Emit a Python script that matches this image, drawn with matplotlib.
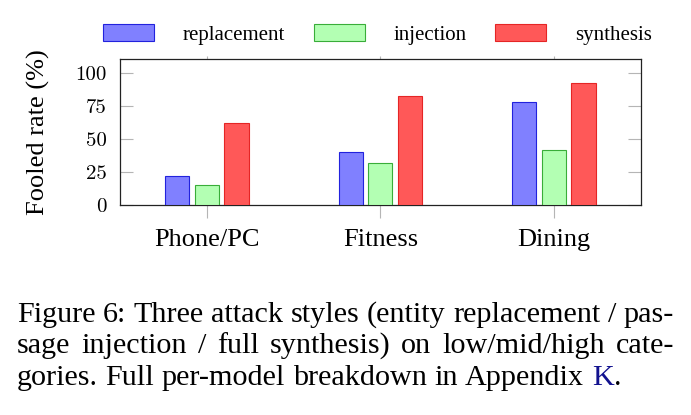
import numpy as np
import matplotlib
matplotlib.use('Agg')
import matplotlib.pyplot as plt
from matplotlib.patches import Patch

categories = ['Phone/PC', 'Fitness', 'Dining']
series_names = ['replacement', 'injection', 'synthesis']
replacement = [22, 40, 78]
injection = [15, 32, 42]
synthesis = [62, 82, 92]
yticks = [0, 25, 50, 75, 100]

caption_lines = [
    'Figure 6: Three attack styles (entity replacement / pas-',
    'sage injection / full synthesis) on low/mid/high cate-',
    'gories. Full per-model breakdown in Appendix',
]
link_text = 'K'

fills = ['#8080ff', '#b3ffb3', '#ff5858']
edges = ['#2222dd', '#39ad39', '#e52525']

W, H = 691, 415
serif = 'Liberation Serif'

fig = plt.figure(figsize=(W / 100, H / 100), dpi=100)
ax = fig.add_axes([120 / W, 1 - 205.3 / H, 520.7 / W, 146 / H])

x = np.arange(len(categories))
step = 0.171
bw = 0.14
for i, vals in enumerate([replacement, injection, synthesis]):
    ax.bar(x + (i - 1) * step, vals, width=bw, color=fills[i],
           edgecolor=edges[i], linewidth=0.8, zorder=3)

ax.set_xlim(-0.5, 2.5)
ax.set_ylim(0, 110)
ax.set_yticks(yticks)
ax.set_yticklabels([str(v) for v in yticks], fontfamily='cmr10', fontsize=15)
ax.set_xticks(x)
ax.set_xticklabels(categories, fontfamily=serif, fontsize=19)

ax.tick_params(axis='y', direction='in', length=9.4, width=0.8, color='#b5b5b5',
               left=True, right=True, pad=9.5)
ax.tick_params(axis='x', direction='out', length=9.4, width=0.8, color='#b5b5b5',
               top=False, pad=8)
for s in ax.spines.values():
    s.set_linewidth(0.9)
    s.set_color('#222222')

# little stubs above the top spine
top = ax.secondary_xaxis('top')
top.set_xticks(x)
top.set_xticklabels([])
top.tick_params(direction='out', length=2.2, width=0.8, color='#b5b5b5')
top.spines['top'].set_visible(False)

fig.text(38 / W, 1 - 132.5 / H, 'Fooled rate (%)', rotation=90, ha='center',
         va='center', fontfamily=serif, fontsize=19)

handles = [Patch(facecolor=fills[i], edgecolor=edges[i], linewidth=0.8)
           for i in range(3)]
fig.legend(handles, series_names, loc='center', bbox_to_anchor=(377.5 / W, 1 - 34.5 / H),
           ncol=3, frameon=False, prop={'family': serif, 'size': 15},
           handlelength=2.45, handleheight=0.85, handletextpad=1.4,
           columnspacing=1.35, borderpad=0, borderaxespad=0)

# caption, justified by hand
renderer = fig.canvas.get_renderer()
cap_size = 21.7
x0, x1 = 17, 674
baselines = [321.5, 353, 384.5]


def word_width(t):
    return t.get_window_extent(renderer).width


space_w = cap_size / 0.72 * 0.25

for n, line in enumerate(caption_lines):
    words = line.split(' ')
    texts = [fig.text(0, 0, w, fontfamily=serif, fontsize=cap_size,
                      ha='left', va='baseline') for w in words]
    widths = [word_width(t) for t in texts]
    last = n == len(caption_lines) - 1
    if last:
        gap = space_w
    else:
        gap = (x1 - x0 - sum(widths)) / (len(words) - 1)
    pos = x0
    for t, w in zip(texts, widths):
        t.set_position((pos / W, 1 - baselines[n] / H))
        pos += w + gap
    if last:
        k = fig.text(pos / W, 1 - baselines[n] / H, link_text, color='#12128f',
                     fontfamily=serif, fontsize=cap_size, ha='left', va='baseline')
        pos += word_width(k) + 1
        fig.text(pos / W, 1 - baselines[n] / H, '.', fontfamily=serif,
                 fontsize=cap_size, ha='left', va='baseline')

fig.savefig('out.png', dpi=100)
